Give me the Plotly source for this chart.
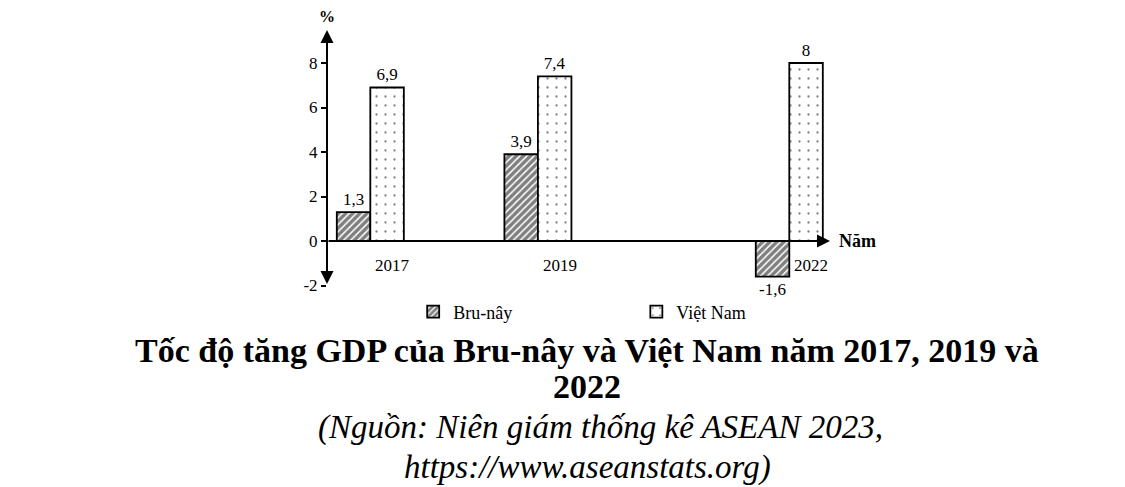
import plotly.graph_objects as go

# Data (GDP growth, %)
years = [2017, 2019, 2022]
brunei = [1.3, 3.9, -1.6]
vietnam = [6.9, 7.4, 8.0]
y_ticks = [-2, 0, 2, 4, 6, 8]

serif = "Liberation Serif"


def vn_num(v):
    # Vietnamese decimal comma
    return f"{v:g}".replace(".", ",")


fig = go.Figure()

fig.add_trace(go.Bar(
    x=years, y=brunei, name="Bru-nây", legend="legend",
    width=0.4, offset=-0.4,
    marker=dict(color="white", line=dict(color="black", width=1.8),
                pattern=dict(shape="/", size=5, solidity=0.7,
                             fgcolor="black", bgcolor="white")),
    text=[vn_num(v) for v in brunei], textposition="outside",
    textfont=dict(family=serif, size=17, color="black"),
    cliponaxis=False,
))

fig.add_trace(go.Bar(
    x=years, y=vietnam, name="Việt Nam", legend="legend2",
    width=0.4, offset=0,
    marker=dict(color="white", line=dict(color="black", width=1.8),
                pattern=dict(shape=".", size=9, solidity=0.05,
                             fgcolor="black", bgcolor="white")),
    text=[vn_num(v) for v in vietnam], textposition="outside",
    textfont=dict(family=serif, size=17, color="black"),
    cliponaxis=False,
))

x0, x_tip = 2016.483, 2022.486
y_lo, y_tip = -2.0, 9.48

annotations = [
    # y axis with arrows at both ends
    dict(x=x0, y=y_tip, ax=x0, ay=y_lo, xref="x", yref="y", axref="x", ayref="y",
         text="", showarrow=True, arrowhead=2, startarrowhead=2, arrowside="end+start",
         arrowsize=1.3, arrowwidth=2, arrowcolor="black", standoff=0, startstandoff=0),
    # x axis arrow
    dict(x=x_tip, y=0, ax=x0, ay=0, xref="x", yref="y", axref="x", ayref="y",
         text="", showarrow=True, arrowhead=2, arrowsize=1.3, arrowwidth=2,
         arrowcolor="black", standoff=0),
    dict(x=x_tip, y=0, xref="x", yref="y", text="<b>Năm</b>", showarrow=False,
         xanchor="left", xshift=7, font=dict(family=serif, size=18, color="black")),
    dict(x=x0, y=1, xref="x", yref="paper", text="<b>%</b>", showarrow=False,
         yanchor="middle", yshift=4, font=dict(family=serif, size=16, color="black")),
]

# category labels sit to the right, under the Việt Nam bars
for yr in years:
    annotations.append(dict(x=yr, y=0, xref="x", yref="y", text=str(yr), showarrow=False,
                            xshift=22, yshift=-24,
                            font=dict(family=serif, size=17, color="black")))

# title and source below the chart
plot_left, plot_bottom = 327, 292
lines = [
    ("<b>Tốc độ tăng GDP của Bru-nây và Việt Nam năm 2017, 2019 và</b>", 587, 350, 34),
    ("<b>2022</b>", 587, 386, 34),
    ("<i>(Nguồn: Niên giám thống kê ASEAN 2023,</i>", 600, 427, 33),
    ("<i>https://www.aseanstats.org)</i>", 587, 467, 33),
]
for txt, cx, cy, fs in lines:
    annotations.append(dict(x=0, y=0, xref="paper", yref="paper", text=txt, showarrow=False,
                            xanchor="center", yanchor="middle",
                            xshift=cx - plot_left, yshift=-(cy - plot_bottom),
                            font=dict(family=serif, size=fs, color="black")))

legend_style = dict(orientation="h", y=-0.0735, xanchor="left", yanchor="middle",
                    font=dict(family=serif, size=18, color="black"),
                    bgcolor="rgba(0,0,0,0)")

fig.update_layout(
    width=1125, height=487,
    margin=dict(l=327, r=285, t=20, b=195),
    font=dict(family=serif, size=17, color="black"),
    paper_bgcolor="white", plot_bgcolor="white",
    barmode="overlay",
    showlegend=True,
    legend=dict(x=0.168, **legend_style),
    legend2=dict(x=0.603, **legend_style),
    xaxis=dict(range=[x0, 2022.605], visible=False),
    yaxis=dict(range=[-2.292, 9.933], tickvals=y_ticks, ticktext=[str(t) for t in y_ticks],
               showgrid=False, zeroline=False, showline=False,
               ticks="outside", ticklen=5, tickwidth=2, tickcolor="black",
               tickfont=dict(family=serif, size=17, color="black")),
    annotations=annotations,
)

# the page body has a default 8px margin; drop it so the figure fills the window
fig.write_html("out.html", config={"displayModeBar": False},
               post_script="document.body.style.margin='0';")
